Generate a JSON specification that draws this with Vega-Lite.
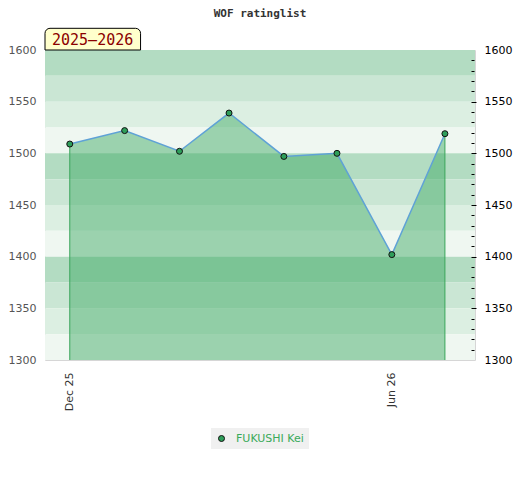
{
  "$schema": "https://vega.github.io/schema/vega-lite/v6.json",
  "width": 430,
  "height": 310,
  "autosize": "none",
  "padding": {"left": 45, "top": 50, "right": 45, "bottom": 120},
  "background": "white",
  "config": {
    "font": "DejaVu Sans",
    "view": {"stroke": "#d6d6d6", "strokeWidth": 1},
    "axisX": {
      "format": "%b %y",
      "labelAngle": 270,
      "ticks": false,
      "domain": false,
      "grid": false,
      "title": null,
      "labelPadding": 12,
      "labelColor": "#333333",
      "labelFontSize": 11,
      "labelFlush": false,
      "labelOverlap": false
    }
  },
  "title": {
    "text": "WOF ratinglist",
    "font": "DejaVu Sans Mono",
    "fontSize": 11,
    "fontWeight": "bold",
    "color": "#333333",
    "frame": "group",
    "anchor": "middle",
    "offset": 9
  },
  "datasets": {
    "ratings": [
      {"date": "2025-12-01T00:00:00", "rating": 1509, "player": "FUKUSHI Kei"},
      {"date": "2026-01-01T00:00:00", "rating": 1522, "player": "FUKUSHI Kei"},
      {"date": "2026-02-01T00:00:00", "rating": 1502, "player": "FUKUSHI Kei"},
      {"date": "2026-03-01T00:00:00", "rating": 1539, "player": "FUKUSHI Kei"},
      {"date": "2026-04-01T00:00:00", "rating": 1497, "player": "FUKUSHI Kei"},
      {"date": "2026-05-01T00:00:00", "rating": 1500, "player": "FUKUSHI Kei"},
      {"date": "2026-06-01T00:00:00", "rating": 1402, "player": "FUKUSHI Kei"},
      {"date": "2026-07-01T00:00:00", "rating": 1519, "player": "FUKUSHI Kei"}
    ],
    "bands": [
      {"lo": 1575, "hi": 1600, "shade": "s1"},
      {"lo": 1550, "hi": 1575, "shade": "s2"},
      {"lo": 1525, "hi": 1550, "shade": "s3"},
      {"lo": 1500, "hi": 1525, "shade": "s4"},
      {"lo": 1475, "hi": 1500, "shade": "s1"},
      {"lo": 1450, "hi": 1475, "shade": "s2"},
      {"lo": 1425, "hi": 1450, "shade": "s3"},
      {"lo": 1400, "hi": 1425, "shade": "s4"},
      {"lo": 1375, "hi": 1400, "shade": "s1"},
      {"lo": 1350, "hi": 1375, "shade": "s2"},
      {"lo": 1325, "hi": 1350, "shade": "s3"},
      {"lo": 1300, "hi": 1325, "shade": "s4"}
    ],
    "season": [
      {"label": "2025–2026"}
    ]
  },
  "resolve": {"axis": {"y": "independent"}},
  "layer": [
    {
      "data": {"name": "bands"},
      "mark": "rect",
      "encoding": {
        "x": {
          "datum": {"year": 2025, "month": 11, "date": 17},
          "type": "temporal",
          "title": null,
          "scale": {
            "domain": [
              {"year": 2025, "month": 11, "date": 17},
              {"year": 2026, "month": 7, "date": 18}
            ]
          },
          "axis": {
            "values": [
              {"year": 2025, "month": 12, "date": 1},
              {"year": 2026, "month": 6, "date": 1}
            ]
          }
        },
        "x2": {"datum": {"year": 2026, "month": 7, "date": 18}},
        "y": {
          "field": "hi",
          "type": "quantitative",
          "scale": {"domain": [1300, 1600], "nice": false, "zero": false},
          "axis": {
            "orient": "left",
            "values": [1300, 1350, 1400, 1450, 1500, 1550, 1600],
            "format": "d",
            "ticks": false,
            "domain": false,
            "grid": false,
            "title": null,
            "labelPadding": 9,
            "labelColor": "#555555",
            "labelFontSize": 11,
            "labelFlush": false,
            "labelOverlap": false
          }
        },
        "y2": {"field": "lo"},
        "color": {
          "field": "shade",
          "type": "nominal",
          "scale": {
            "domain": ["s1", "s2", "s3", "s4"],
            "range": ["#b3dcc2", "#cae6d4", "#dcefe2", "#eff7f1"]
          },
          "legend": null
        }
      }
    },
    {
      "data": {"name": "ratings"},
      "mark": {"type": "area", "fill": "#3eaa65", "fillOpacity": 0.48},
      "encoding": {
        "x": {
          "field": "date",
          "type": "temporal",
          "title": null,
          "axis": {
            "values": [
              {"year": 2025, "month": 12, "date": 1},
              {"year": 2026, "month": 6, "date": 1}
            ]
          }
        },
        "y": {
          "field": "rating",
          "type": "quantitative",
          "axis": {
            "orient": "right",
            "values": [1300, 1310, 1320, 1330, 1340, 1350, 1360, 1370, 1380, 1390, 1400, 1410, 1420, 1430, 1440, 1450, 1460, 1470, 1480, 1490, 1500, 1510, 1520, 1530, 1540, 1550, 1560, 1570, 1580, 1590, 1600],
            "labelExpr": "datum.value % 50 === 0 ? format(datum.value, 'd') : ''",
            "offset": -4,
            "zindex": 1,
            "tickSize": {"condition": {"test": "datum.value % 50 === 0", "value": 5}, "value": 3},
            "tickOpacity": {"condition": {"test": "datum.value === 1300 || datum.value === 1600", "value": 0}, "value": 1},
            "tickColor": "#000000",
            "domain": false,
            "grid": false,
            "title": null,
            "labelPadding": 8,
            "labelColor": "#000000",
            "labelFontSize": 11,
            "labelFlush": false,
            "labelOverlap": false
          }
        },
        "y2": {"datum": 1300}
      }
    },
    {
      "data": {"name": "ratings"},
      "transform": [{"filter": "datum.rating === 1509 || datum.rating === 1519"}],
      "mark": {"type": "rule", "color": "#3aa65a", "strokeWidth": 1},
      "encoding": {
        "x": {"field": "date", "type": "temporal", "title": null},
        "y": {"field": "rating", "type": "quantitative", "axis": null},
        "y2": {"datum": 1300}
      }
    },
    {
      "data": {"name": "ratings"},
      "mark": {"type": "line", "color": "#5fa2d6", "strokeWidth": 1.5},
      "encoding": {
        "x": {"field": "date", "type": "temporal", "title": null},
        "y": {"field": "rating", "type": "quantitative", "axis": null}
      }
    },
    {
      "data": {"name": "ratings"},
      "mark": {"type": "point", "shape": "circle", "filled": true, "size": 36, "stroke": "#111111", "strokeWidth": 1, "opacity": 1},
      "encoding": {
        "x": {"field": "date", "type": "temporal", "title": null},
        "y": {"field": "rating", "type": "quantitative", "axis": null},
        "fill": {
          "field": "player",
          "type": "nominal",
          "scale": {"range": ["#2e9e5a"]},
          "legend": {
            "orient": "none",
            "legendX": 166,
            "legendY": 378,
            "title": null,
            "fillColor": "#f0f0f0",
            "padding": 5,
            "symbolType": "circle",
            "symbolSize": 36,
            "symbolStrokeColor": "#111111",
            "symbolStrokeWidth": 1,
            "labelColor": "#3aaa5a",
            "labelFontSize": 11,
            "labelFont": "DejaVu Sans",
            "labelOffset": 9
          }
        }
      }
    },
    {
      "data": {"name": "season"},
      "mark": {"type": "rect", "fill": "#ffffcc", "stroke": "#000000", "strokeWidth": 1, "cornerRadiusTopLeft": 5, "cornerRadiusTopRight": 5},
      "encoding": {
        "x": {"datum": {"year": 2025, "month": 11, "date": 17}, "type": "temporal", "title": null},
        "x2": {"datum": {"year": 2026, "month": 1, "date": 10}},
        "y": {"datum": 1621, "type": "quantitative", "axis": null},
        "y2": {"datum": 1600}
      }
    },
    {
      "data": {"name": "season"},
      "mark": {"type": "text", "align": "left", "baseline": "middle", "dx": 7, "font": "DejaVu Sans Mono", "fontSize": 15, "color": "#8b0000"},
      "encoding": {
        "x": {"datum": {"year": 2025, "month": 11, "date": 17}, "type": "temporal", "title": null},
        "y": {"datum": 1610, "type": "quantitative", "axis": null},
        "text": {"field": "label"}
      }
    }
  ]
}
